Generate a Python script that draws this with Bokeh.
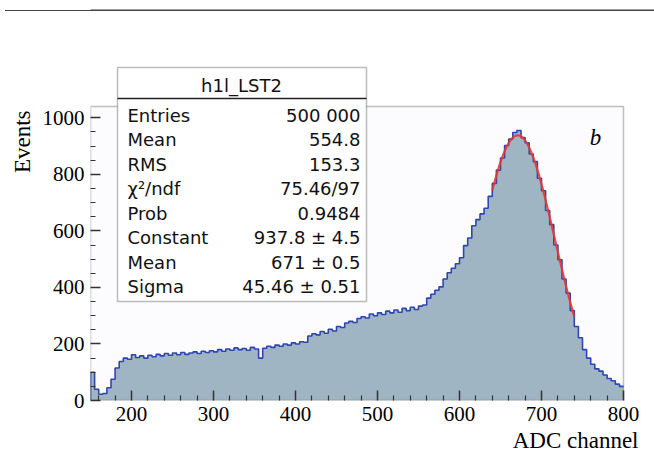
import numpy as np
from bokeh.plotting import figure
from bokeh.layouts import column
from bokeh.models import (Range1d, FixedTicker, Label, BoxAnnotation, Title, Div)
from bokeh.embed import file_html
from bokeh.resources import INLINE

# ---------------- data ----------------
bin_start = 150
bin_width = 5
counts = [
    100, 40, 22, 25, 45, 75, 115, 138, 150, 146,            # 150-200
    162, 152, 158, 150, 160, 155, 163, 158, 166, 160,       # 200-250
    168, 162, 170, 163, 168, 172, 166, 174, 170, 176,       # 250-300
    172, 180, 174, 182, 178, 186, 180, 184, 178, 188,       # 300-350
    182, 150, 185, 192, 188, 196, 192, 200, 196, 204,       # 350-400
    200, 208, 206, 228, 236, 232, 244, 238, 252, 246,       # 400-450
    262, 258, 274, 280, 276, 290, 296, 292, 306, 300,       # 450-500
    310, 304, 316, 310, 320, 312, 326, 318, 330, 322,       # 500-550
    334, 338, 362, 376, 390, 402, 430, 452, 468, 484,       # 550-600
    505, 548, 575, 618, 640, 660, 680, 722, 768, 815,       # 600-650
    858, 902, 925, 948, 955, 930, 912, 872, 845, 786,       # 650-700
    742, 672, 622, 550, 498, 430, 380, 318, 262, 222,       # 700-750
    180, 150, 128, 112, 104, 90, 78, 70, 58, 50,            # 750-800
]
x_tick_labels = [200, 300, 400, 500, 600, 700, 800]
y_tick_labels = [0, 200, 400, 600, 800, 1000]
x_axis_limits = (150, 800)
y_axis_limits = (0, 1040)

stats_title = "h1l_LST2"
stats_names = ["Entries", "Mean", "RMS", "χ²/ndf", "Prob", "Constant", "Mean", "Sigma"]
stats_values = ["500 000", "554.8", "153.3", "75.46/97", "0.9484",
                "937.8 ± 4.5", "671 ± 0.5", "45.46 ± 0.51"]
fit_constant = 937.8
fit_mean = 671.0
fit_sigma = 45.46
fit_range = (640, 740)

# ---------------- derived ----------------
n = len(counts)
left = [bin_start + i * bin_width for i in range(n)]
step_x = left + [left[-1] + bin_width]
step_y = counts + [counts[-1]]

fx = np.linspace(fit_range[0], fit_range[1], 201)
fy = fit_constant * np.exp(-0.5 * ((fx - fit_mean) / fit_sigma) ** 2)

x_minor = [v for v in range(160, 800, 20) if v % 100 != 0]
y_minor = [v for v in range(50, 1001, 50) if v % 200 != 0]

# frame geometry: visible box 533 x 294 px; canvas frame extended to top/right edge
px_per_x = 533 / (x_axis_limits[1] - x_axis_limits[0])
px_per_y = 294 / (y_axis_limits[1] - y_axis_limits[0])
FRAME_W, FRAME_H = 564, 400
x_end = x_axis_limits[0] + FRAME_W / px_per_x
y_end = y_axis_limits[0] + FRAME_H / px_per_y

# ---------------- figure ----------------
p = figure(width=654, height=460, output_backend="svg", toolbar_location=None,
           x_range=Range1d(x_axis_limits[0], x_end), y_range=Range1d(y_axis_limits[0], y_end),
           min_border_left=90, min_border_right=0, min_border_top=0, min_border_bottom=60)
p.background_fill_color = "white"
p.border_fill_color = "white"
p.outline_line_color = None
p.xgrid.visible = False
p.ygrid.visible = False

p.xaxis.ticker = FixedTicker(ticks=x_tick_labels, minor_ticks=x_minor)
p.yaxis.ticker = FixedTicker(ticks=y_tick_labels, minor_ticks=y_minor)
for ax in (p.xaxis, p.yaxis):
    ax.major_tick_in = 10
    ax.major_tick_out = 0
    ax.minor_tick_in = 5
    ax.minor_tick_out = 0
    ax.axis_line_color = None
    ax.major_tick_line_color = "#333333"
    ax.minor_tick_line_color = "#333333"
    ax.major_tick_line_width = 1.5
    ax.minor_tick_line_width = 1.2
    ax.major_label_text_font = "Liberation Serif"
    ax.major_label_text_font_size = "21px"
    ax.major_label_text_color = "black"
    ax.major_label_standoff = 6

# plot-area background (under everything)
p.add_layout(BoxAnnotation(left=x_axis_limits[0], right=x_axis_limits[1],
                           bottom=y_axis_limits[0], top=y_axis_limits[1],
                           fill_color="#fcfcfe", fill_alpha=1, line_color=None,
                           level="underlay"))

# histogram fill and outline
p.varea_step(x=step_x, y1=[0] * len(step_x), y2=step_y, step_mode="after",
             fill_color="#a0b5c4")
p.step(x=step_x, y=step_y, mode="after", line_color="#2d46ac", line_width=1.6)
p.segment(x0=[step_x[0]], y0=[0], x1=[step_x[0]], y1=[counts[0]],
          line_color="#2d46ac", line_width=1.6)

# gaussian fit
p.line(fx, fy, line_color="#e8362c", line_width=2.2, line_alpha=0.9)

# visible frame border
p.add_layout(BoxAnnotation(left=x_axis_limits[0], right=x_axis_limits[1],
                           bottom=y_axis_limits[0], top=y_axis_limits[1],
                           fill_alpha=0, line_color="#333333", line_width=1.5))

# ---------------- annotations (screen units, relative to frame bottom-left) ----------------
scr = dict(x_units="screen", y_units="screen")
box_units = dict(left_units="screen", right_units="screen",
                 top_units="screen", bottom_units="screen")

# page separator line near the top (inside the extended frame)
p.add_layout(BoxAnnotation(left=-10, right=570, bottom=389.5, top=391, **box_units,
                           fill_color="#444444", fill_alpha=1, line_color=None))

# stats box
p.add_layout(BoxAnnotation(left=27, right=276, bottom=99, top=333, **box_units,
                           fill_color="white", fill_alpha=1,
                           line_color="#222222", line_width=1.5))
p.add_layout(BoxAnnotation(left=27, right=276, bottom=301.3, top=302.7, **box_units,
                           fill_color="#222222", fill_alpha=1, line_color=None))
p.add_layout(Label(x=151, y=315, text=stats_title, text_align="center",
                   text_baseline="middle", text_font="DejaVu Sans",
                   text_font_size="18px", text_color="#111111", **scr))
row0 = 285
dy = 24.43
for i, (nm, vl) in enumerate(zip(stats_names, stats_values)):
    yy = row0 - i * dy
    p.add_layout(Label(x=37, y=yy, text=nm, text_align="left", text_baseline="middle",
                       text_font="DejaVu Sans", text_font_size="18px",
                       text_color="#111111", **scr))
    p.add_layout(Label(x=270, y=yy, text=vl, text_align="right", text_baseline="middle",
                       text_font="DejaVu Sans", text_font_size="18px",
                       text_color="#111111", **scr))

p.add_layout(Label(x=505, y=263, text="b", text_align="center",
                   text_baseline="middle", text_font="Liberation Serif",
                   text_font_style="italic", text_font_size="23px",
                   text_color="black", **scr))

# axis titles
p.add_layout(Title(text="ADC channel", align="right", offset=16, standoff=5,
                   text_font="Liberation Serif", text_font_size="23px",
                   text_font_style="normal", text_color="black"), "below")
p.add_layout(Title(text="Events", align="right", offset=110, standoff=10,
                   text_font="Liberation Serif", text_font_size="23px",
                   text_font_style="normal", text_color="black"), "left")

# left part of the separator line, placed absolutely over the page
rule = Div(text="", width=90, height=2,
           styles={"position": "absolute", "top": "4.5px", "left": "0px",
                   "border-top": "1.5px solid #444444", "height": "0px",
                   "width": "90px"})

open("out.html", "w").write(file_html(column(p, rule, spacing=0), INLINE))
